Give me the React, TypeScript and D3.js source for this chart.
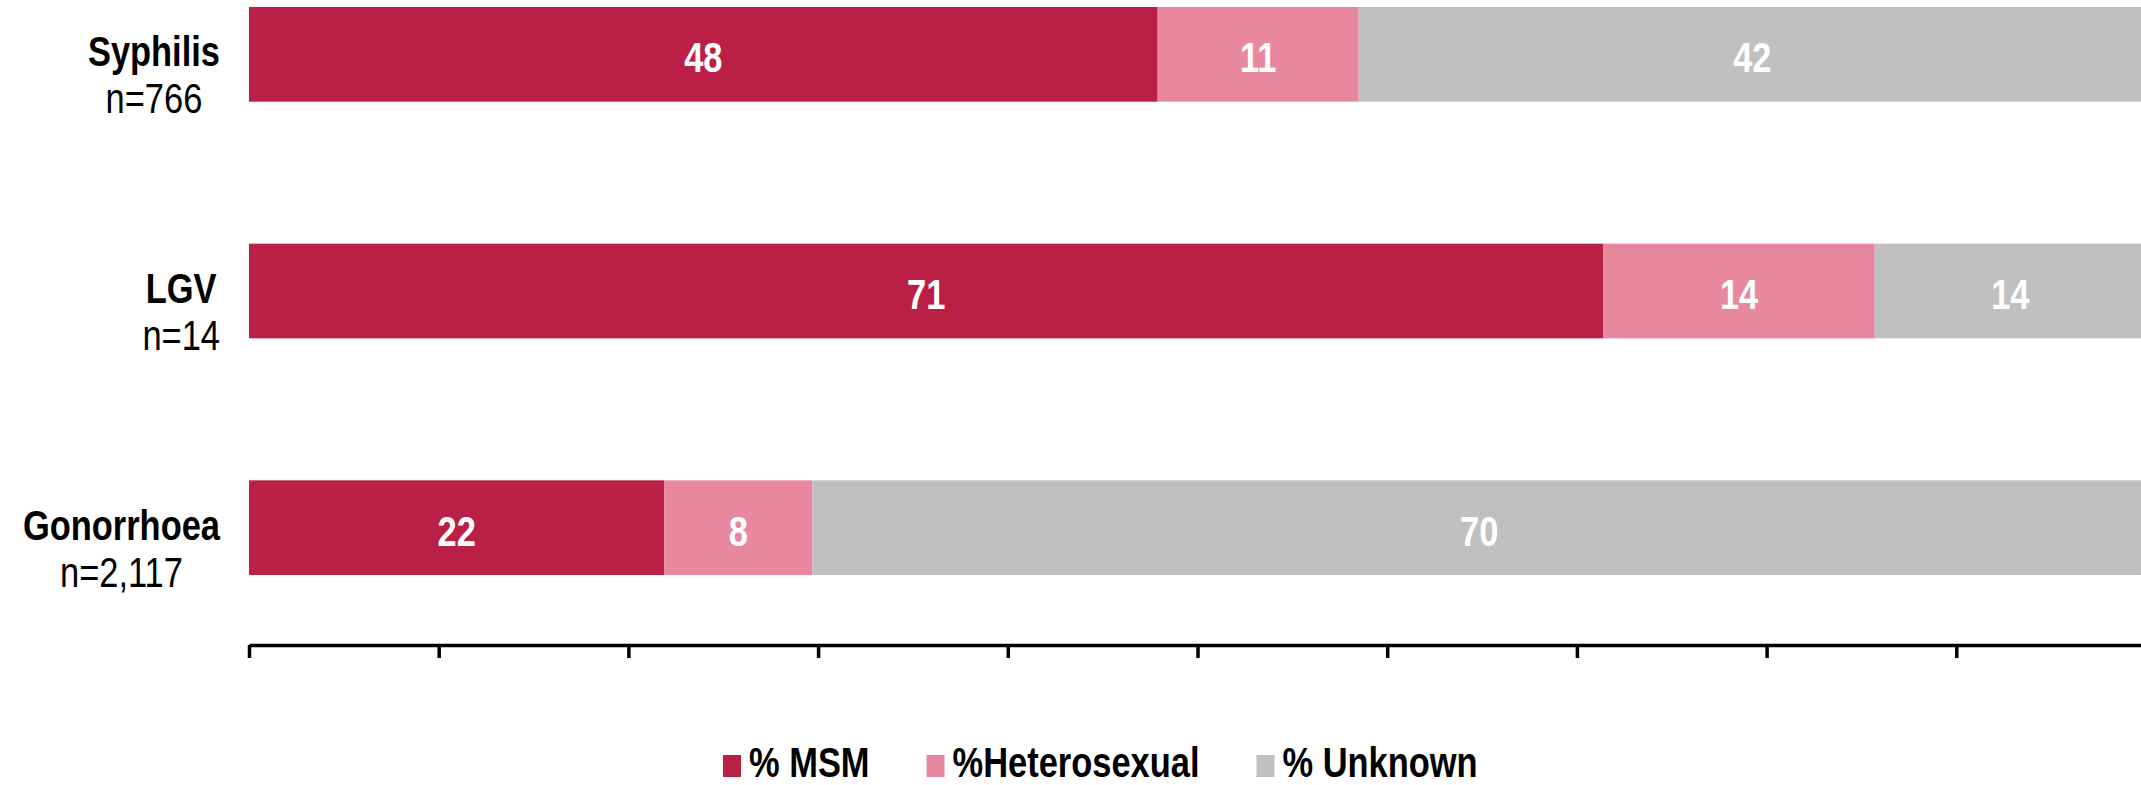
import React, { useEffect, useRef } from "react";
import * as d3 from "d3";

const categories = ["Syphilis", "LGV", "Gonorrhoea"];
const sampleSizes = ["n=766", "n=14", "n=2,117"];
const seriesNames = ["% MSM", "%Heterosexual", "% Unknown"];
const msm = [47.9, 71.4, 21.9];
const heterosexual = [10.6, 14.3, 7.8];
const unknown = [41.5, 14.3, 70.3];
const tickValues = [0, 10, 20, 30, 40, 50, 60, 70, 80, 90, 100];

const W = 2141;
const H = 785;
const FONT = "'Liberation Sans', Arial, sans-serif";
const NARROW = 0.82;
const COLORS = ["#BA2046", "#E8889F", "url(#unkPattern)"];

// create narrow text: natural Liberation Sans squeezed to Arial Narrow proportions
function narrowText(
  parent: d3.Selection<any, any, any, any>,
  str: string,
  bold: boolean,
  fill: string
) {
  const t = parent
    .append("text")
    .attr("fill", fill)
    .attr("font-family", FONT)
    .attr("font-weight", bold ? "bold" : "normal")
    .attr("font-size", 42)
    .text(str);
  const w = (t.node() as SVGTextElement).getComputedTextLength() * NARROW;
  t.attr("textLength", w).attr("lengthAdjust", "spacingAndGlyphs");
  return { t, w };
}

export default function App() {
  const ref = useRef<SVGSVGElement>(null);

  useEffect(() => {
    const svg = d3.select(ref.current);
    svg.selectAll("*").remove();

    const defs = svg.append("defs");
    const pat = defs
      .append("pattern")
      .attr("id", "unkPattern")
      .attr("patternUnits", "userSpaceOnUse")
      .attr("width", 2)
      .attr("height", 2);
    pat.append("rect").attr("width", 2).attr("height", 2).attr("fill", "#c5c5c5");
    pat.append("rect").attr("width", 1).attr("height", 1).attr("fill", "#b9b9b9");
    pat.append("rect").attr("x", 1).attr("y", 1).attr("width", 1).attr("height", 1).attr("fill", "#bdbdbd");

    const x = d3.scaleLinear().domain([0, 100]).range([249, 2146]);
    const y = d3
      .scaleBand<string>()
      .domain(categories)
      .range([-64, 646])
      .paddingInner(0.6)
      .paddingOuter(0.3);

    const rows = categories.map((c, i) => ({
      cat: c,
      n: sampleSizes[i],
      vals: [msm[i], heterosexual[i], unknown[i]],
    }));

    const g = svg.append("g");

    rows.forEach((r) => {
      let acc = 0;
      const y0 = y(r.cat) as number;
      const bw = y.bandwidth();
      r.vals.forEach((v, k) => {
        const x0 = x(acc);
        const x1 = x(acc + v);
        g.append("rect")
          .attr("x", x0)
          .attr("y", y0)
          .attr("width", x1 - x0)
          .attr("height", bw)
          .attr("fill", COLORS[k]);
        const { t, w } = narrowText(g, String(Math.round(v)), true, "#ffffff");
        t.attr("x", (x0 + x1) / 2 - w / 2).attr("y", y0 + bw / 2 + 18);
        acc += v;
      });

      // category label block: lines centred within block, block right-aligned
      const cy = y0 + bw / 2;
      const a = narrowText(g, r.cat, true, "#000");
      const b = narrowText(g, r.n, false, "#000");
      const bwid = Math.max(a.w, b.w);
      const center = 220 - bwid / 2;
      a.t.attr("x", center - a.w / 2).attr("y", cy + 12);
      b.t.attr("x", center - b.w / 2).attr("y", cy + 59);
    });

    // axis
    const axis = d3
      .axisBottom(x)
      .tickValues(tickValues)
      .tickSize(13)
      .tickSizeOuter(0)
      .tickFormat(() => "");
    const ag = svg.append("g").attr("transform", "translate(0,645)").call(axis);
    ag.select(".domain").attr("stroke", "#000").attr("stroke-width", 3.5);
    ag.selectAll(".tick line").attr("stroke", "#000").attr("stroke-width", 3.5);

    // legend
    let lx = 723;
    seriesNames.forEach((name, k) => {
      svg
        .append("rect")
        .attr("x", lx)
        .attr("y", 755)
        .attr("width", 18)
        .attr("height", 22)
        .attr("fill", COLORS[k]);
      const { t, w } = narrowText(svg, name, true, "#000");
      t.attr("x", lx + 26).attr("y", 777);
      lx = lx + 26 + w + 57;
    });
  }, []);

  return (
    <svg
      ref={ref}
      width={W}
      height={H}
      style={{ position: "absolute", left: 0, top: 0, background: "#fff", display: "block" }}
    />
  );
}
